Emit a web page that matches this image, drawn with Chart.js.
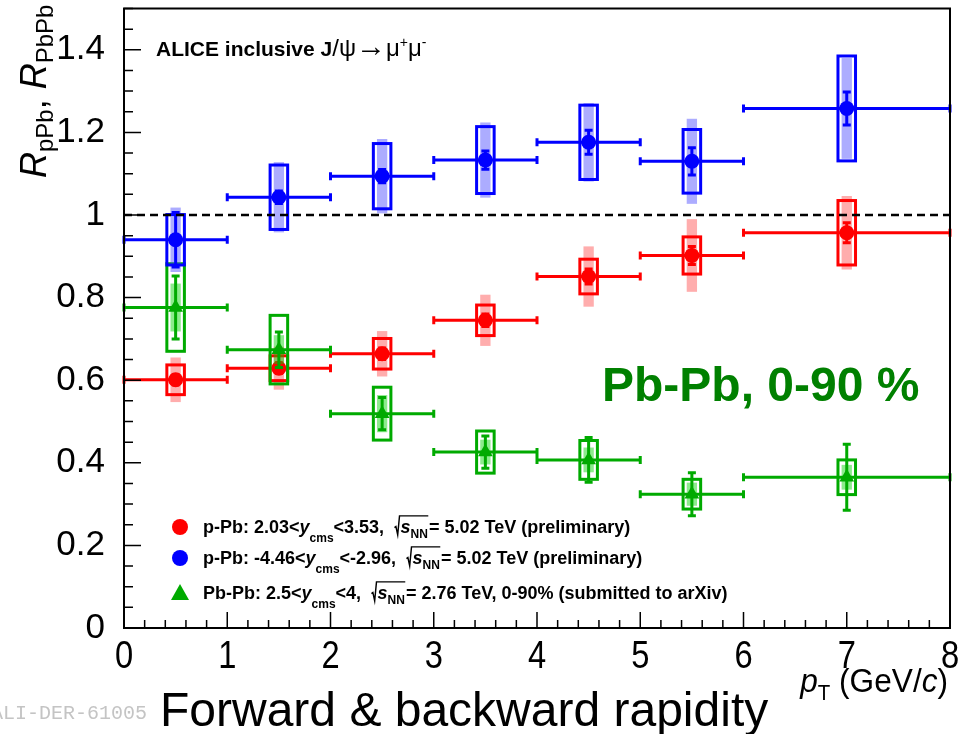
<!DOCTYPE html>
<html>
<head>
<meta charset="utf-8">
<script src="https://cdn.jsdelivr.net/npm/chart.js@4.4.1/dist/chart.umd.min.js"></script>
<style>
html,body{margin:0;padding:0;background:#fff;overflow:hidden}
#wrap{position:relative;width:961px;height:734px}
canvas{display:block}
</style>
</head>
<body>
<div id="wrap"><canvas id="c" width="961" height="734"></canvas></div>
<script>
// ---------------- data ----------------
const binCenters    = [0.5, 1.5, 2.5, 3.5, 4.5, 5.5, 7];
const binHalfWidths = [0.5, 0.5, 0.5, 0.5, 0.5, 0.5, 1];

// p-Pb forward (2.03<y<3.53)
const redValues   = [0.601, 0.629, 0.664, 0.745, 0.851, 0.902, 0.957];
const redStat     = [0.012, 0.013, 0.014, 0.015, 0.018, 0.022, 0.024];
const redSystBox  = [0.036, 0.030, 0.037, 0.037, 0.042, 0.045, 0.078];
const redSystBand = [0.054, 0.052, 0.055, 0.062, 0.073, 0.088, 0.089];

// p-Pb backward (-4.46<y<-2.96)
const blueValues   = [0.940, 1.043, 1.094, 1.133, 1.176, 1.130, 1.258];
const blueStat     = [0.066, 0.015, 0.016, 0.022, 0.029, 0.033, 0.040];
const blueSystBox  = [0.061, 0.078, 0.079, 0.081, 0.090, 0.077, 0.127];
const blueSystBand = [0.078, 0.085, 0.090, 0.091, 0.095, 0.103, 0.122];

// Pb-Pb 0-90% (2.5<y<4)
const greenValues   = [0.776, 0.674, 0.519, 0.426, 0.407, 0.324, 0.365];
const greenStat     = [0.076, 0.043, 0.039, 0.039, 0.054, 0.052, 0.080];
const greenSystBox  = [0.106, 0.083, 0.064, 0.051, 0.047, 0.036, 0.042];
const greenSystBand = [0.058, 0.035, 0.045, 0.030, 0.030, 0.028, 0.030];

const xTickValues = [0, 1, 2, 3, 4, 5, 6, 7, 8];
const xTickLabels = ['0', '1', '2', '3', '4', '5', '6', '7', '8'];
const yTickValues = [0, 0.2, 0.4, 0.6, 0.8, 1, 1.2, 1.4];
const yTickLabels = ['0', '0.2', '0.4', '0.6', '0.8', '1', '1.2', '1.4'];
const referenceLevel = 1;

// ---------------- styles ----------------
const SANS = "'Liberation Sans', Arial, Helvetica, sans-serif";
const BOX_HALF = 0.085;   // x-units
const BAND_HALF = 0.05;   // x-units
const RED = '#ff0000', BLUE = '#0000ff', GREEN = '#00aa00';

function toPoints(vals) { return binCenters.map((x, k) => ({x: x, y: vals[k]})); }

function segFont(s, base) {
  const size = s.size || base;
  return (s.i ? 'italic ' : '') + (s.b ? 'bold ' : '') + size + 'px ' + (s.family || SANS);
}
function measureSegs(ctx, segs, base) {
  let w = 0;
  for (const s of segs) {
    if (s.sqrt) { w += base * 0.36 + measureSegs(ctx, s.sqrt, base) + base * 0.06; }
    else { ctx.font = segFont(s, base); w += ctx.measureText(s.t).width; }
  }
  return w;
}
function drawSegs(ctx, x, y, segs, base, color) {
  for (const s of segs) {
    if (s.sqrt) {
      const inner = measureSegs(ctx, s.sqrt, base);
      const rw = base * 0.36;
      ctx.save();
      ctx.strokeStyle = color; ctx.lineWidth = Math.max(1.3, base * 0.08);
      ctx.beginPath();
      ctx.moveTo(x + 0.02 * base, y - 0.30 * base);
      ctx.lineTo(x + 0.10 * base, y - 0.36 * base);
      ctx.lineTo(x + 0.20 * base, y + 0.10 * base);
      ctx.lineTo(x + 0.30 * base, y - 0.95 * base);
      ctx.lineTo(x + rw + inner + 0.02 * base, y - 0.95 * base);
      ctx.stroke();
      ctx.restore();
      x = drawSegs(ctx, x + rw, y, s.sqrt, base, color) + base * 0.06;
    } else {
      ctx.font = segFont(s, base);
      ctx.fillStyle = s.color || color;
      ctx.fillText(s.t, x, y + (s.dy || 0));
      x += ctx.measureText(s.t).width;
    }
  }
  return x;
}

const rootPlugin = {
  id: 'rootStyle',
  beforeDatasetDraw(chart, args) {
    const ds = chart.data.datasets[args.index];
    const ctx = chart.ctx, xs = chart.scales.x, ys = chart.scales.y;
    ctx.save();
    // correlated syst. band
    ctx.fillStyle = ds.bandColor;
    ds.data.forEach((p, k) => {
      const xl = xs.getPixelForValue(p.x - BAND_HALF), xr = xs.getPixelForValue(p.x + BAND_HALF);
      const yt = ys.getPixelForValue(p.y + ds.systBand[k]), yb = ys.getPixelForValue(p.y - ds.systBand[k]);
      ctx.fillRect(xl, yt, xr - xl, yb - yt);
    });
    // uncorrelated syst. box
    ctx.strokeStyle = ds.lineColor; ctx.lineWidth = 3;
    ds.data.forEach((p, k) => {
      const xl = xs.getPixelForValue(p.x - BOX_HALF), xr = xs.getPixelForValue(p.x + BOX_HALF);
      const yt = ys.getPixelForValue(p.y + ds.systBox[k]), yb = ys.getPixelForValue(p.y - ds.systBox[k]);
      ctx.strokeRect(xl, yt, xr - xl, yb - yt);
    });
    // horizontal bin bars with end marks
    ctx.lineWidth = 3;
    ds.data.forEach((p, k) => {
      const xl = xs.getPixelForValue(p.x - ds.xHalf[k]), xr = xs.getPixelForValue(p.x + ds.xHalf[k]);
      const y = ys.getPixelForValue(p.y);
      ctx.beginPath();
      ctx.moveTo(xl, y); ctx.lineTo(xr, y);
      ctx.moveTo(xl, y - 4); ctx.lineTo(xl, y + 4);
      ctx.moveTo(xr, y - 4); ctx.lineTo(xr, y + 4);
      ctx.stroke();
    });
    // statistical error bars
    ctx.lineWidth = 3;
    ds.data.forEach((p, k) => {
      const x = xs.getPixelForValue(p.x);
      const yt = ys.getPixelForValue(p.y + ds.stat[k]), yb = ys.getPixelForValue(p.y - ds.stat[k]);
      ctx.beginPath();
      ctx.moveTo(x, yt); ctx.lineTo(x, yb);
      ctx.moveTo(x - 4, yt); ctx.lineTo(x + 4, yt);
      ctx.moveTo(x - 4, yb); ctx.lineTo(x + 4, yb);
      ctx.stroke();
    });
    ctx.restore();
  },
  afterDatasetsDraw(chart) {
    const ctx = chart.ctx, xs = chart.scales.x, ys = chart.scales.y, a = chart.chartArea;
    ctx.save();
    // dashed reference line
    ctx.strokeStyle = '#000'; ctx.lineWidth = 2.5; ctx.setLineDash([8, 5]);
    const yr = ys.getPixelForValue(referenceLevel);
    ctx.beginPath(); ctx.moveTo(a.left, yr); ctx.lineTo(a.right, yr); ctx.stroke();
    ctx.setLineDash([]);
    // frame
    ctx.lineWidth = 2;
    ctx.strokeRect(a.left, a.top, a.right - a.left, a.bottom - a.top);
    // y ticks (inside)
    ctx.lineWidth = 1.5;
    ctx.beginPath();
    for (let i = 0; i <= 30; i++) {
      const v = i * 0.05; const y = ys.getPixelForValue(v);
      const len = (i % 4 === 0) ? 17 : 9;
      ctx.moveTo(a.left, y); ctx.lineTo(a.left + len, y);
    }
    // x ticks (inside)
    for (let i = 0; i <= 40; i++) {
      const v = i * 0.2; const x = xs.getPixelForValue(v);
      const len = (i % 5 === 0) ? 16 : 8;
      ctx.moveTo(x, a.bottom); ctx.lineTo(x, a.bottom - len);
    }
    ctx.stroke();
    ctx.restore();
  },
  afterDraw(chart) {
    const ctx = chart.ctx, xs = chart.scales.x;
    ctx.save();
    ctx.textBaseline = 'alphabetic'; ctx.textAlign = 'left';

    // x tick labels (condensed, positioned by the x scale)
    ctx.save();
    ctx.font = '38px ' + SANS; ctx.fillStyle = '#000'; ctx.textAlign = 'center';
    xTickValues.forEach((v, i) => {
      const px = xs.getPixelForValue(v);
      ctx.save();
      ctx.translate(px, 668);
      ctx.scale(0.86, 1);
      ctx.fillText(xTickLabels[i], 0, 0);
      ctx.restore();
    });
    ctx.restore();

    // y axis title (rotated)
    ctx.save();
    ctx.translate(46, 178);
    ctx.rotate(-Math.PI / 2);
    drawSegs(ctx, 0, 0, [
      {t: 'R', i: true}, {t: 'pPb', size: 24, dy: 7}, {t: ', '},
      {t: 'R', i: true}, {t: 'PbPb', size: 24, dy: 7}
    ], 36, '#000');
    ctx.restore();

    // x axis title
    const xt = [{t: 'p', i: true}, {t: 'T', size: 22, dy: 8}, {t: ' (GeV/'}, {t: 'c', i: true}, {t: ')'}];
    const wxt = measureSegs(ctx, xt, 34);
    ctx.save();
    ctx.translate(948, 692);
    ctx.scale(0.93, 1);
    drawSegs(ctx, -wxt, 0, xt, 34, '#000');
    ctx.restore();

    // caption
    ctx.font = '48px ' + SANS; ctx.fillStyle = '#000';
    ctx.fillText('Forward & backward rapidity', 160, 726);

    // ALICE figure id
    ctx.font = "20px 'Liberation Mono', 'DejaVu Sans Mono', monospace"; ctx.fillStyle = '#c4c4c4';
    ctx.fillText('ALI-DER-61005', -9, 719);

    // ALICE header
    drawSegs(ctx, 156, 56, [
      {t: 'ALICE inclusive J', b: true}, {t: '/\u03C8', size: 24}, {t: '\u2192', size: 30}, {t: '\u03BC', size: 24},
      {t: '+', size: 14, dy: -9}, {t: '\u03BC', size: 24}, {t: '-', size: 14, dy: -9}
    ], 21, '#000');

    // Pb-Pb label
    ctx.font = 'bold 48px ' + SANS; ctx.fillStyle = '#008000';
    ctx.fillText('Pb-Pb, 0-90 %', 602, 401);

    // legend
    const rows = [
      {y: 527, color: RED, style: 'circle', segs: [
        {t: 'p-Pb: 2.03<', b: true}, {t: 'y', b: true, i: true}, {t: 'cms', b: true, size: 12, dy: 9},
        {t: '<3.53,  ', b: true}, {sqrt: [{t: 's', b: true, i: true}, {t: 'NN', b: true, size: 12, dy: 5}]},
        {t: '= 5.02 TeV (preliminary)', b: true}]},
      {y: 558, color: BLUE, style: 'circle', segs: [
        {t: 'p-Pb: -4.46<', b: true}, {t: 'y', b: true, i: true}, {t: 'cms', b: true, size: 12, dy: 9},
        {t: '<-2.96,  ', b: true}, {sqrt: [{t: 's', b: true, i: true}, {t: 'NN', b: true, size: 12, dy: 5}]},
        {t: '= 5.02 TeV (preliminary)', b: true}]},
      {y: 593, color: GREEN, style: 'triangle', segs: [
        {t: 'Pb-Pb: 2.5<', b: true}, {t: 'y', b: true, i: true}, {t: 'cms', b: true, size: 12, dy: 9},
        {t: '<4,  ', b: true}, {sqrt: [{t: 's', b: true, i: true}, {t: 'NN', b: true, size: 12, dy: 5}]},
        {t: '= 2.76 TeV, 0-90% (submitted to arXiv)', b: true}]}
    ];
    rows.forEach(r => {
      ctx.fillStyle = r.color;
      ctx.beginPath();
      if (r.style === 'circle') {
        ctx.arc(180, r.y, 8, 0, Math.PI * 2);
      } else {
        ctx.moveTo(180, r.y - 9); ctx.lineTo(189, r.y + 7); ctx.lineTo(171, r.y + 7); ctx.closePath();
      }
      ctx.fill();
      drawSegs(ctx, 203, r.y + 6, r.segs, 18, '#000');
    });
    ctx.restore();
  }
};

const chart = new Chart(document.getElementById('c'), {
  type: 'scatter',
  data: {
    datasets: [
      {label: 'p-Pb backward', data: toPoints(blueValues), stat: blueStat, systBox: blueSystBox,
       systBand: blueSystBand, xHalf: binHalfWidths, lineColor: BLUE, bandColor: 'rgba(70,70,255,0.45)',
       pointStyle: 'circle', pointRadius: 7.5, backgroundColor: BLUE, borderColor: BLUE, borderWidth: 0},
      {label: 'Pb-Pb', data: toPoints(greenValues), stat: greenStat, systBox: greenSystBox,
       systBand: greenSystBand, xHalf: binHalfWidths, lineColor: GREEN, bandColor: 'rgba(0,210,0,0.45)',
       pointStyle: 'triangle', pointRadius: 8.5, backgroundColor: GREEN, borderColor: GREEN, borderWidth: 0},
      {label: 'p-Pb forward', data: toPoints(redValues), stat: redStat, systBox: redSystBox,
       systBand: redSystBand, xHalf: binHalfWidths, lineColor: RED, bandColor: 'rgba(255,0,0,0.32)',
       pointStyle: 'circle', pointRadius: 7.5, backgroundColor: RED, borderColor: RED, borderWidth: 0}
    ]
  },
  options: {
    responsive: false,
    devicePixelRatio: 1,
    animation: false,
    events: [],
    layout: {padding: {top: 8, right: 11, left: 0, bottom: 0}},
    plugins: {legend: {display: false}, tooltip: {enabled: false}},
    scales: {
      x: {
        type: 'linear', min: 0, max: 8,
        afterBuildTicks: s => { s.ticks = xTickValues.map(v => ({value: v})); },
        afterFit: s => { s.height = 106; s.paddingLeft = 0; s.paddingRight = 0; },
        grid: {display: false}, border: {display: false},
        ticks: {display: false, autoSkip: false, maxRotation: 0, padding: 0, color: '#000',
                font: {family: SANS, size: 34},
                callback: (v, i) => xTickLabels[i]}
      },
      y: {
        type: 'linear', min: 0, max: 1.5,
        afterBuildTicks: s => { s.ticks = yTickValues.map(v => ({value: v})); },
        afterFit: s => { s.width = 124; s.paddingTop = 0; s.paddingBottom = 0; },
        grid: {display: false}, border: {display: false},
        ticks: {autoSkip: false, padding: 11, color: '#000',
                font: {family: SANS, size: 35},
                callback: (v, i) => yTickLabels[i]}
      }
    }
  },
  plugins: [rootPlugin]
});
</script>
</body>
</html>
